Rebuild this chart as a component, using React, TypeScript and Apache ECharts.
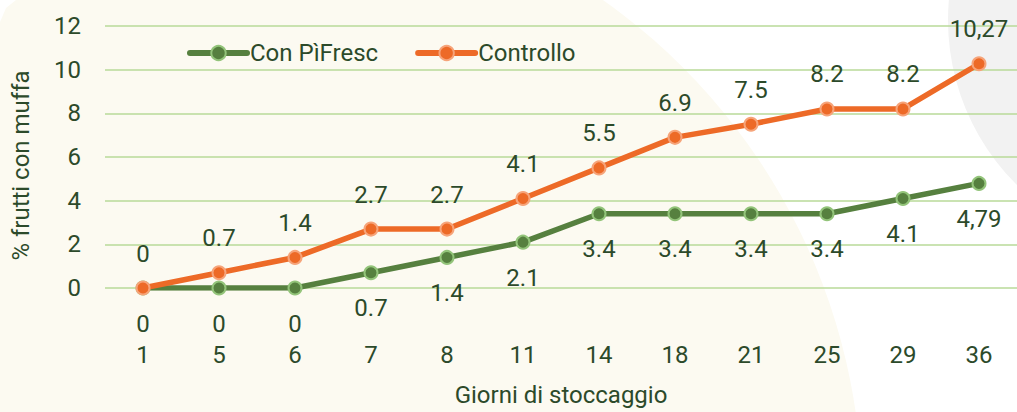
import React, { useEffect, useRef } from "react";
import * as echarts from "echarts";

const categories = ["1", "5", "6", "7", "8", "11", "14", "18", "21", "25", "29", "36"];
const controlloValues = [0, 0.7, 1.4, 2.7, 2.7, 4.1, 5.5, 6.9, 7.5, 8.2, 8.2, 10.27];
const controlloLabels = ["0", "0.7", "1.4", "2.7", "2.7", "4.1", "5.5", "6.9", "7.5", "8.2", "8.2", "10,27"];
const pifrescValues = [0, 0, 0, 0.7, 1.4, 2.1, 3.4, 3.4, 3.4, 3.4, 4.1, 4.79];
const pifrescLabels = ["0", "0", "0", "0.7", "1.4", "2.1", "3.4", "3.4", "3.4", "3.4", "4.1", "4,79"];
const seriesNames = ["Con PìFresc", "Controllo"];

const TEXT = "#2c4a2a";
const FONT = "Roboto, sans-serif";
const FS = 24;
const GREEN = "#56803f";
const GREEN_LIGHT = "#93c47a";
const ORANGE = "#ed6a27";
const ORANGE_LIGHT = "#f6a47a";

export default function App() {
  const ref = useRef<HTMLDivElement>(null);
  useEffect(() => {
    document.body.style.margin = "0";
    const chart = echarts.init(ref.current!, null, { renderer: "svg" });
    chart.setOption({
      animation: false,
      backgroundColor: "#ffffff",
      textStyle: { fontFamily: FONT },
      graphic: [
        { type: "circle", z: -10, silent: true, shape: { cx: 250, cy: 500, r: 612 }, style: { fill: "#fcfaf1" } },
        { type: "polygon", z: -9, silent: true, shape: { points: [[0, 0], [16, 0], [6, 8], [0, 22]] }, style: { fill: "#ffffff" } },
        { type: "circle", z: -9, silent: true, shape: { cx: 1180, cy: 20, r: 232 }, style: { fill: "#f2f2f2" } },
      ],
      legend: {
        left: 187,
        top: 41,
        padding: 0,
        itemWidth: 57,
        itemHeight: 18,
        itemGap: 37,
        lineStyle: { width: 6 },
        textStyle: { fontSize: FS, color: TEXT, fontFamily: FONT, padding: [0, 0, 0, -2] },
        data: seriesNames,
      },
      grid: { left: 105, right: -3, top: 26, bottom: 121, containLabel: false },
      xAxis: {
        type: "category",
        data: categories,
        boundaryGap: true,
        axisLine: { show: false },
        axisTick: { show: false },
        axisLabel: { fontSize: FS, color: TEXT, margin: 55, fontFamily: FONT },
        name: "Giorni di stoccaggio",
        nameLocation: "middle",
        nameGap: 95,
        nameTextStyle: { fontSize: FS, color: TEXT, fontFamily: FONT },
      },
      yAxis: {
        type: "value",
        min: 0,
        max: 12,
        interval: 2,
        axisLine: { show: false },
        axisTick: { show: false },
        splitLine: { lineStyle: { color: "#b8da98", width: 1.5 } },
        axisLabel: { fontSize: FS, color: TEXT, margin: 24, fontFamily: FONT },
        name: "% frutti con muffa",
        nameLocation: "middle",
        nameGap: 72,
        nameTextStyle: { fontSize: FS, color: TEXT, fontFamily: FONT, padding: [0, 17, 0, 0] },
      },
      series: [
        {
          name: seriesNames[0],
          type: "line",
          data: pifrescValues,
          symbol: "circle",
          symbolSize: 13,
          z: 3,
          lineStyle: { color: GREEN, width: 5.5, cap: "round" },
          itemStyle: { color: GREEN, borderColor: GREEN_LIGHT, borderWidth: 2 },
          label: {
            show: true,
            position: "bottom",
            distance: 16,
            fontSize: FS,
            color: TEXT,
            fontFamily: FONT,
            formatter: (p: any) => pifrescLabels[p.dataIndex],
          },
        },
        {
          name: seriesNames[1],
          type: "line",
          data: controlloValues,
          symbol: "circle",
          symbolSize: 13,
          z: 4,
          lineStyle: { color: ORANGE, width: 5.5, cap: "round" },
          itemStyle: { color: ORANGE, borderColor: ORANGE_LIGHT, borderWidth: 2 },
          label: {
            show: true,
            position: "top",
            distance: 15,
            fontSize: FS,
            color: TEXT,
            fontFamily: FONT,
            formatter: (p: any) => controlloLabels[p.dataIndex],
          },
        },
      ],
    });
    return () => chart.dispose();
  }, []);
  return <div ref={ref} style={{ width: 1017, height: 412 }} />;
}
